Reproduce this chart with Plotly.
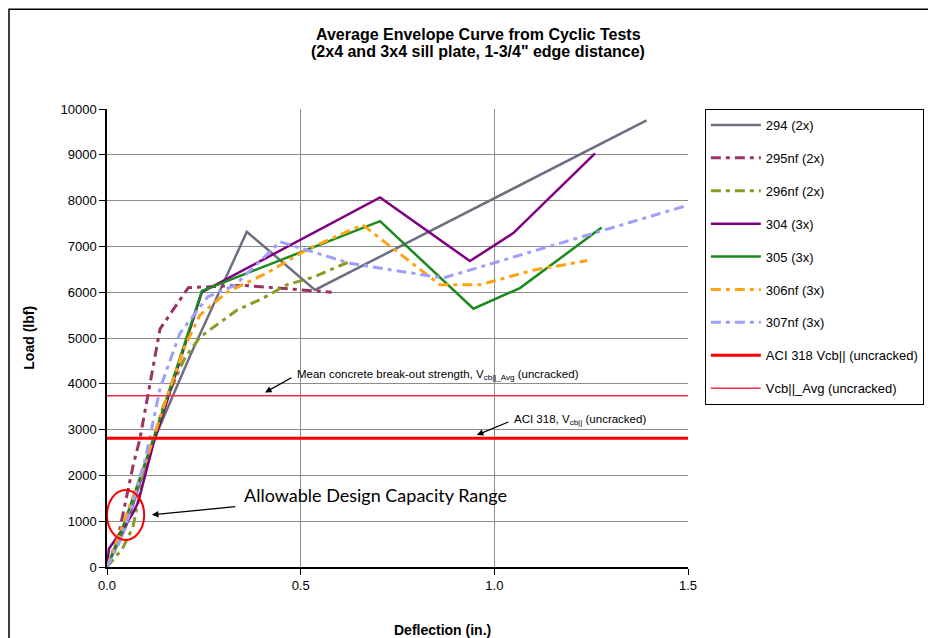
import plotly.graph_objects as go

# ---------------- data ----------------
s294_x = [0.0, 0.05, 0.12, 0.214, 0.361, 0.537, 1.393]
s294_y = [0, 900, 2750, 4600, 7320, 6050, 9750]

s295_x = [0.0, 0.03, 0.067, 0.085, 0.111, 0.137, 0.21, 0.35, 0.58]
s295_y = [0, 700, 2200, 2800, 4000, 5200, 6100, 6150, 6000]

s296_x = [0.0, 0.04, 0.067, 0.098, 0.145, 0.2, 0.24, 0.336, 0.403, 0.464, 0.533, 0.63]
s296_y = [0, 400, 870, 2180, 3500, 4550, 5020, 5610, 5870, 6160, 6330, 6680]

s304_x = [0.0, 0.005, 0.03, 0.065, 0.08, 0.12, 0.245, 0.705, 0.937, 1.049, 1.26]
s304_y = [0, 400, 700, 1150, 1400, 2700, 6000, 8070, 6680, 7290, 9030]

s305_x = [0.0, 0.04, 0.12, 0.245, 0.705, 0.946, 1.066, 1.277]
s305_y = [0, 850, 2800, 6030, 7550, 5640, 6090, 7410]

s306_x = [0.0, 0.04, 0.1, 0.15, 0.2, 0.24, 0.31, 0.413, 0.52, 0.66, 0.86, 0.963, 1.1, 1.24]
s306_y = [0, 900, 2300, 3600, 4800, 5500, 6000, 6420, 6950, 7470, 6160, 6160, 6480, 6690]

s307_x = [0.0, 0.03, 0.06, 0.1, 0.137, 0.188, 0.26, 0.33, 0.447, 0.627, 0.868, 1.5]
s307_y = [0, 500, 1200, 2400, 3900, 5100, 5900, 6150, 7100, 6630, 6310, 7900]

aci_x = [0.0, 1.5]
aci_y = [2810, 2810]
avg_x = [0.0, 1.5]
avg_y = [3740, 3740]

x_ticks = [0.0, 0.5, 1.0, 1.5]
y_ticks = [0, 1000, 2000, 3000, 4000, 5000, 6000, 7000, 8000, 9000, 10000]

# ---------------- figure ----------------
fig = go.Figure()
dashpat = "10px,5px,4px,5px"

series = [
    ("294 (2x)", s294_x, s294_y, "#6E6E80", "solid", 2.5),
    ("295nf (2x)", s295_x, s295_y, "#993366", dashpat, 3),
    ("296nf (2x)", s296_x, s296_y, "#8A9A22", dashpat, 3),
    ("304 (3x)", s304_x, s304_y, "#800080", "solid", 2.5),
    ("305 (3x)", s305_x, s305_y, "#1A8A1A", "solid", 2.5),
    ("306nf (3x)", s306_x, s306_y, "#FFA214", dashpat, 3),
    ("307nf (3x)", s307_x, s307_y, "#9E9EFF", dashpat, 3),
    ("ACI 318 Vcb|| (uncracked)", aci_x, aci_y, "#FF0000", "solid", 3),
    ("Vcb||_Avg (uncracked)", avg_x, avg_y, "#FF2A4A", "solid", 1.5),
]
for i, (name, xs, ys, col, dash, w) in enumerate(series):
    fig.add_trace(go.Scatter(
        x=xs, y=ys, mode="lines", name=name, legendgroup=f"g{i}",
        line=dict(color=col, dash=dash, width=w),
    ))

fig.update_layout(
    width=936, height=638,
    margin=dict(l=99, r=256, t=101, b=79),
    paper_bgcolor="white", plot_bgcolor="white",
    font=dict(family="Liberation Sans, Arial, sans-serif", size=13, color="black"),
    showlegend=True,
    legend=dict(
        x=1.029, y=1.0, xanchor="left", yanchor="top",
        bordercolor="black", borderwidth=1,
        font=dict(size=13, color="black"),
        tracegroupgap=13, itemwidth=50,
    ),
    xaxis=dict(
        range=[0, 1.5], tickvals=x_ticks, tickformat=".1f",
        showgrid=True, gridcolor="#8C8C8C", gridwidth=1,
        showline=True, linecolor="black", linewidth=1.5,
        ticks="outside", ticklen=6, tickcolor="black",
        zeroline=False,
    ),
    yaxis=dict(
        range=[0, 10000], tickvals=y_ticks, tickformat="d",
        showgrid=True, gridcolor="#8C8C8C", gridwidth=1,
        showline=True, linecolor="black", linewidth=1.5,
        ticks="outside", ticklen=6, tickcolor="black",
        zeroline=False,
    ),
)

# outer frame
fig.add_shape(type="rect", xref="paper", yref="paper",
              x0=-0.1687, x1=1.42, y0=-0.25, y1=1.218,
              line=dict(color="black", width=1.5), layer="below")

# red ellipse
fig.add_shape(type="circle", xref="x", yref="y",
              x0=0.0, x1=0.096, y0=590, y1=1680,
              line=dict(color="#FF0000", width=2))

annos = [
    dict(xref="paper", yref="paper", x=0.6386, y=1.186, showarrow=False,
         text="<b>Average Envelope Curve from Cyclic Tests</b>", font=dict(size=16)),
    dict(xref="paper", yref="paper", x=0.6386, y=1.149, showarrow=False,
         text="<b>(2x4 and 3x4 sill plate, 1-3/4\" edge distance)</b>", font=dict(size=16)),
    dict(xref="paper", yref="paper", x=-0.152, y=0.5, showarrow=False, textangle=-90,
         text="<b>Load (lbf)</b>", font=dict(size=14)),
    dict(xref="paper", yref="paper", x=0.578, y=-0.16, showarrow=False,
         text="<b>Deflection (in.)</b>", font=dict(size=14)),
    dict(x=0.485, y=4200, xref="x", yref="y", showarrow=False, xanchor="left",
         text="Mean concrete break-out strength, V<sub>cb||_Avg</sub> (uncracked)",
         font=dict(size=11.5)),
    dict(x=0.408, y=3810, ax=0.48, ay=4150, xref="x", yref="y", axref="x", ayref="y",
         showarrow=True, arrowhead=2, arrowsize=1, arrowwidth=1.3, arrowcolor="black", text=""),
    dict(x=1.046, y=3200, xref="x", yref="y", showarrow=False, xanchor="left",
         text="ACI 318, V<sub>cb||</sub> (uncracked)", font=dict(size=11.5)),
    dict(x=0.955, y=2880, ax=1.04, ay=3180, xref="x", yref="y", axref="x", ayref="y",
         showarrow=True, arrowhead=2, arrowsize=1, arrowwidth=1.3, arrowcolor="black", text=""),
    dict(x=0.3486, y=1570, xref="x", yref="y", showarrow=False, xanchor="left",
         text="Allowable Design Capacity Range",
         font=dict(size=18, family="Lato, Open Sans, sans-serif")),
    dict(x=0.116, y=1140, ax=0.335, ay=1320, xref="x", yref="y", axref="x", ayref="y",
         showarrow=True, arrowhead=2, arrowsize=1, arrowwidth=1.3, arrowcolor="black", text=""),
]
for a in annos:
    fig.add_annotation(**a)

fig.write_html("out.html")
